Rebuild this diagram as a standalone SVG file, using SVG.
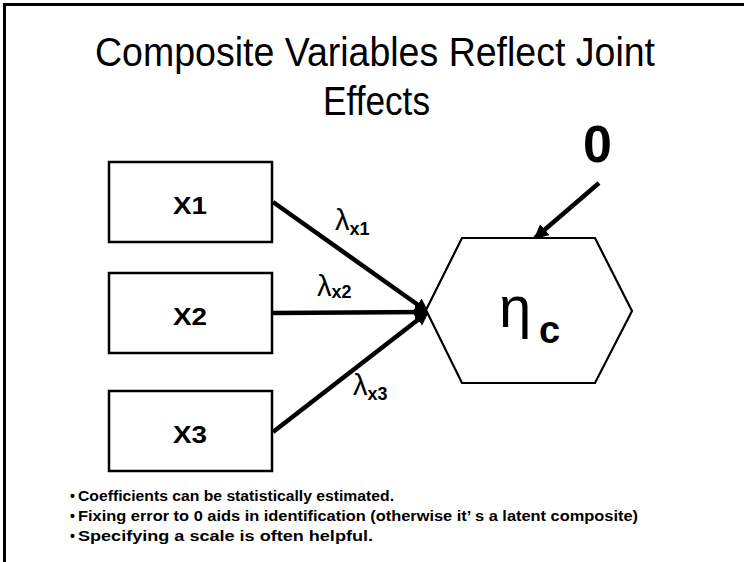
<svg xmlns="http://www.w3.org/2000/svg" width="744" height="562" viewBox="0 0 744 562">
<style>
.t{font-family:"Liberation Sans",Arial,sans-serif;fill:#000}
.title{font-size:40px}
.box{fill:#fff;stroke:#000;stroke-width:2.5}
.lbl{font-size:23px;font-weight:bold}
.conn{stroke:#000;stroke-width:4.5;fill:none}
.lam{font-size:29px}
.sub{font-size:18px;font-weight:bold}
.bul{font-size:14px;font-weight:bold}
</style>
<defs>
<marker id="ah" viewBox="0 0 10 10" refX="9" refY="5" markerWidth="3.2" markerHeight="3.2" orient="auto" markerUnits="strokeWidth">
<path d="M0,0 L10,5 L0,10 z" fill="#000"/>
</marker>
</defs>
<rect x="0" y="0" width="744" height="562" fill="#fff"/>
<path d="M4.5,562 V4.5 H744" fill="none" stroke="#000" stroke-width="3"/>
<g id="title">
<text class="t title" x="375" y="66" text-anchor="middle" textLength="560" lengthAdjust="spacingAndGlyphs">Composite Variables Reflect Joint</text>
<text class="t title" x="376.5" y="115" text-anchor="middle" textLength="107" lengthAdjust="spacingAndGlyphs">Effects</text>
</g>
<g id="connectors">
<line class="conn" x1="273" y1="202" x2="428" y2="312" marker-end="url(#ah)"/>
<line class="conn" x1="273" y1="313" x2="428" y2="312" marker-end="url(#ah)"/>
<line class="conn" x1="273" y1="432" x2="428" y2="312" marker-end="url(#ah)"/>
<line class="conn" x1="599" y1="183" x2="535" y2="238" marker-end="url(#ah)"/>
</g>
<g id="labels">
<text class="t lam" x="335" y="230">λ<tspan class="sub" dy="5">x1</tspan></text>
<text class="t lam" x="317" y="296">λ<tspan class="sub" dy="2">x2</tspan></text>
<text class="t lam" x="353" y="395">λ<tspan class="sub" dy="5">x3</tspan></text>
</g>
<g id="X1">
<rect class="box" x="109" y="162" width="163" height="80"/>
<text class="t lbl" x="190" y="214" text-anchor="middle" textLength="34" lengthAdjust="spacingAndGlyphs">X1</text>
</g>
<g id="X2">
<rect class="box" x="109" y="273" width="163" height="80"/>
<text class="t lbl" x="190" y="325" text-anchor="middle" textLength="34" lengthAdjust="spacingAndGlyphs">X2</text>
</g>
<g id="X3">
<rect class="box" x="109" y="391" width="163" height="80"/>
<text class="t lbl" x="190" y="443" text-anchor="middle" textLength="34" lengthAdjust="spacingAndGlyphs">X3</text>
</g>
<g id="eta">
<polygon points="426,310 462,238 595,238 632,311 595,383 462,383" fill="#fff" stroke="#000" stroke-width="2.2"/>
<text class="t" x="499" y="327" font-size="58">η</text>
<text class="t" x="539" y="343" font-size="38" font-weight="bold">c</text>
</g>
<g id="zero">
<text class="t" x="597.5" y="162" font-size="52" font-weight="bold" text-anchor="middle">0</text>
</g>
<g id="bullets">
<text class="t bul" x="70" y="501" font-size="10">•</text>
<text class="t bul" x="78" y="501" textLength="316" lengthAdjust="spacingAndGlyphs">Coefficients can be statistically estimated.</text>
<text class="t bul" x="70" y="521">•</text>
<text class="t bul" x="78" y="521" textLength="560" lengthAdjust="spacingAndGlyphs">Fixing error to 0 aids in identification (otherwise it’ s a latent composite)</text>
<text class="t bul" x="70" y="541">•</text>
<text class="t bul" x="78" y="541" textLength="295" lengthAdjust="spacingAndGlyphs">Specifying a scale is often helpful.</text>
</g>
</svg>
